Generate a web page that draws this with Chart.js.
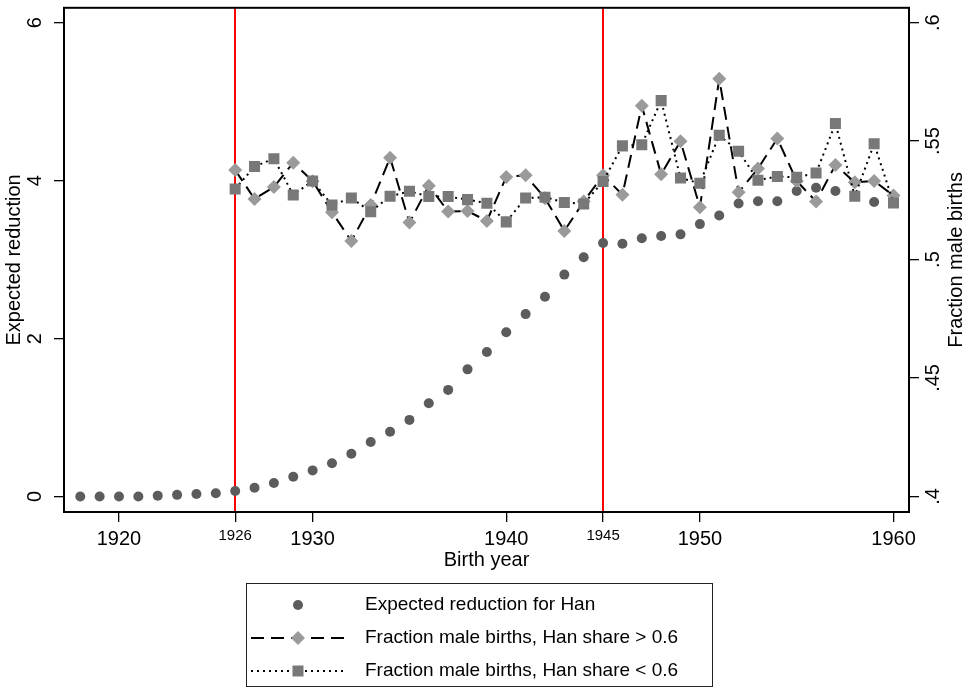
<!DOCTYPE html>
<html><head><meta charset="utf-8">
<script src="https://cdn.jsdelivr.net/npm/chart.js@4.4.0/dist/chart.umd.min.js"></script>
<style>html,body{margin:0;padding:0;background:#fff}#wrap{width:965px;height:690px}</style>
</head><body><div id="wrap"><canvas id="c" width="965" height="690"></canvas></div>
<script>
const years = [1918,1919,1920,1921,1922,1923,1924,1925,1926,1927,1928,1929,1930,1931,1932,1933,1934,1935,1936,1937,1938,1939,1940,1941,1942,1943,1944,1945,1946,1947,1948,1949,1950,1951,1952,1953,1954,1955,1956,1957,1958,1959,1960];
const expectedReduction = [0,0,0,0,0.01,0.02,0.03,0.04,0.07,0.11,0.17,0.25,0.33,0.42,0.54,0.69,0.82,0.97,1.18,1.35,1.61,1.83,2.08,2.31,2.53,2.81,3.03,3.21,3.20,3.27,3.30,3.32,3.45,3.56,3.71,3.74,3.74,3.87,3.91,3.87,3.81,3.73,3.73];
const fracYears = [1926,1927,1928,1929,1930,1931,1932,1933,1934,1935,1936,1937,1938,1939,1940,1941,1942,1943,1944,1945,1946,1947,1948,1949,1950,1951,1952,1953,1954,1955,1956,1957,1958,1959,1960];
const fracHigh = [0.5378,0.5256,0.5306,0.5409,0.5331,0.5200,0.5078,0.5230,0.5430,0.5156,0.5312,0.5203,0.5205,0.5163,0.5349,0.5356,0.5259,0.5121,0.5245,0.5356,0.5274,0.5649,0.5360,0.5500,0.5221,0.5763,0.5284,0.5384,0.5511,0.5332,0.5245,0.5399,0.5326,0.5332,0.5270];
const fracLow = [0.5298,0.5393,0.5426,0.5273,0.5332,0.5230,0.5260,0.5202,0.5267,0.5288,0.5266,0.5266,0.5253,0.5238,0.5159,0.5260,0.5263,0.5241,0.5235,0.5330,0.5480,0.5485,0.5671,0.5344,0.5322,0.5525,0.5457,0.5335,0.5351,0.5347,0.5365,0.5574,0.5267,0.5489,0.5239];
const xTicks = [1920,1926,1930,1940,1945,1950,1960];
const xSmallTicks = [1926,1945];
const leftTicks = [0,2,4,6];
const leftTickLabels = ['0','2','4','6'];
const rightTicks = [0.4,0.45,0.5,0.55,0.6];
const rightTickLabels = ['.4','.45','.5','.55','.6'];
const vLines = [1926,1945];
const seriesLabels = ['Expected reduction for Han','Fraction male births, Han share > 0.6','Fraction male births, Han share < 0.6'];
const xTitle = 'Birth year';
const leftTitle = 'Expected reduction';
const rightTitle = 'Fraction male births';

const FONT = '"Liberation Sans", Arial, Helvetica, sans-serif';
const C_DOT = '#5c5c5c', C_DIA = '#9a9a9a', C_SQ = '#787878';
const DASH = [13, 7], DOT = [2, 4];

const decor = {
  id: 'decor',
  beforeDatasetsDraw(chart) {
    const ctx = chart.ctx, a = chart.chartArea, xs = chart.scales.x;
    ctx.save();
    ctx.strokeStyle = '#ff0000'; ctx.lineWidth = 2;
    vLines.forEach(v => {
      const px = Math.round(xs.getPixelForValue(v));
      ctx.beginPath(); ctx.moveTo(px, a.top); ctx.lineTo(px, a.bottom); ctx.stroke();
    });
    ctx.restore();
  },
  afterDraw(chart) {
    const ctx = chart.ctx, a = chart.chartArea;
    const yl = chart.scales.y, yr = chart.scales.y1;
    ctx.save();
    ctx.strokeStyle = '#000'; ctx.lineWidth = 2;
    ctx.strokeRect(a.left, a.top, a.right - a.left, a.bottom - a.top);
    ctx.fillStyle = '#000';
    ctx.font = '20px ' + FONT;
    ctx.textAlign = 'center'; ctx.textBaseline = 'middle';
    leftTicks.forEach((v, i) => {
      ctx.save(); ctx.translate(35, yl.getPixelForValue(v)); ctx.rotate(-Math.PI / 2);
      ctx.fillText(leftTickLabels[i], 0, 0); ctx.restore();
    });
    rightTicks.forEach((v, i) => {
      ctx.save(); ctx.translate(933, yr.getPixelForValue(v)); ctx.rotate(-Math.PI / 2);
      ctx.fillText(rightTickLabels[i], 0, 0); ctx.restore();
    });
    const cy = (a.top + a.bottom) / 2;
    ctx.save(); ctx.translate(14, cy); ctx.rotate(-Math.PI / 2); ctx.fillText(leftTitle, 0, 0); ctx.restore();
    ctx.save(); ctx.translate(956, cy); ctx.rotate(-Math.PI / 2); ctx.fillText(rightTitle, 0, 0); ctx.restore();
    const L = 246, T = 583, R = 712, B = 686;
    ctx.strokeStyle = '#222'; ctx.lineWidth = 1;
    ctx.strokeRect(L + 0.5, T + 0.5, R - L, B - T);
    const rows = [605, 638, 671];
    const sx1 = 251, sx2 = 346, mx = 298, tx = 365;
    ctx.font = '19px ' + FONT; ctx.textAlign = 'left'; ctx.textBaseline = 'middle'; ctx.fillStyle = '#000';
    rows.forEach((ry, i) => ctx.fillText(seriesLabels[i], tx, ry));
    ctx.fillStyle = C_DOT; ctx.beginPath(); ctx.arc(mx, rows[0], 5, 0, Math.PI * 2); ctx.fill();
    ctx.strokeStyle = '#000'; ctx.lineWidth = 2; ctx.lineCap = 'butt';
    ctx.setLineDash(DASH);
    ctx.beginPath(); ctx.moveTo(sx1, rows[1]); ctx.lineTo(sx2, rows[1]); ctx.stroke();
    ctx.setLineDash(DOT);
    ctx.beginPath(); ctx.moveTo(sx1, rows[2]); ctx.lineTo(sx2, rows[2]); ctx.stroke();
    ctx.setLineDash([]);
    ctx.fillStyle = C_DIA; ctx.beginPath();
    ctx.moveTo(mx, rows[1] - 7); ctx.lineTo(mx + 7, rows[1]); ctx.lineTo(mx, rows[1] + 7); ctx.lineTo(mx - 7, rows[1]); ctx.closePath(); ctx.fill();
    ctx.fillStyle = C_SQ; ctx.fillRect(mx - 5.5, rows[2] - 5.5, 11, 11);
    ctx.restore();
  }
};

const tickGrid = {drawOnChartArea: false, drawTicks: true, tickLength: 10, color: '#000', lineWidth: 1.3};

new Chart(document.getElementById('c'), {
  type: 'line',
  data: {
    datasets: [
      {label: seriesLabels[0], data: years.map((y, i) => ({x: y, y: expectedReduction[i]})), yAxisID: 'y',
       showLine: false, pointStyle: 'circle', pointRadius: 5, pointBackgroundColor: C_DOT, pointBorderWidth: 0, order: 3},
      {label: seriesLabels[1], data: fracYears.map((y, i) => ({x: y, y: fracHigh[i]})), yAxisID: 'y1',
       borderColor: '#000', borderWidth: 2, borderDash: DASH, tension: 0, fill: false,
       pointStyle: 'rectRot', pointRadius: 7, pointBackgroundColor: C_DIA, pointBorderWidth: 0, order: 2},
      {label: seriesLabels[2], data: fracYears.map((y, i) => ({x: y, y: fracLow[i]})), yAxisID: 'y1',
       borderColor: '#000', borderWidth: 2, borderDash: DOT, tension: 0, fill: false,
       pointStyle: 'rect', pointRadius: 7.8, pointBackgroundColor: C_SQ, pointBorderWidth: 0, order: 1}
    ]
  },
  options: {
    responsive: false, animation: false, devicePixelRatio: 1,
    layout: {padding: {left: 0, right: 0, top: 3, bottom: 118}},
    plugins: {legend: {display: false}, tooltip: {enabled: false}},
    elements: {point: {hoverRadius: 0}},
    scales: {
      x: {
        type: 'linear', min: 1917.16, max: 1960.8,
        afterBuildTicks: s => { s.ticks = xTicks.map(v => ({value: v})); },
        afterFit: s => { s.height = 60; },
        grid: tickGrid, border: {display: false},
        ticks: {
          autoSkip: false, maxRotation: 0, minRotation: 0, padding: 5, color: '#000',
          callback: v => String(v),
          font: ctx => ({family: FONT, size: (ctx.tick && xSmallTicks.includes(ctx.tick.value)) ? 15 : 20})
        },
        title: {display: true, text: xTitle, color: '#000', font: {family: FONT, size: 20}, padding: 0}
      },
      y: {
        type: 'linear', position: 'left', min: -0.197, max: 6.19,
        afterBuildTicks: s => { s.ticks = leftTicks.map(v => ({value: v})); },
        afterFit: s => { s.width = 64; },
        grid: tickGrid, border: {display: false}, ticks: {display: false}
      },
      y1: {
        type: 'linear', position: 'right', min: 0.3934, max: 0.6063,
        afterBuildTicks: s => { s.ticks = rightTicks.map(v => ({value: v})); },
        afterFit: s => { s.width = 56; },
        grid: tickGrid, border: {display: false}, ticks: {display: false}
      }
    }
  },
  plugins: [decor]
});
</script></body></html>
